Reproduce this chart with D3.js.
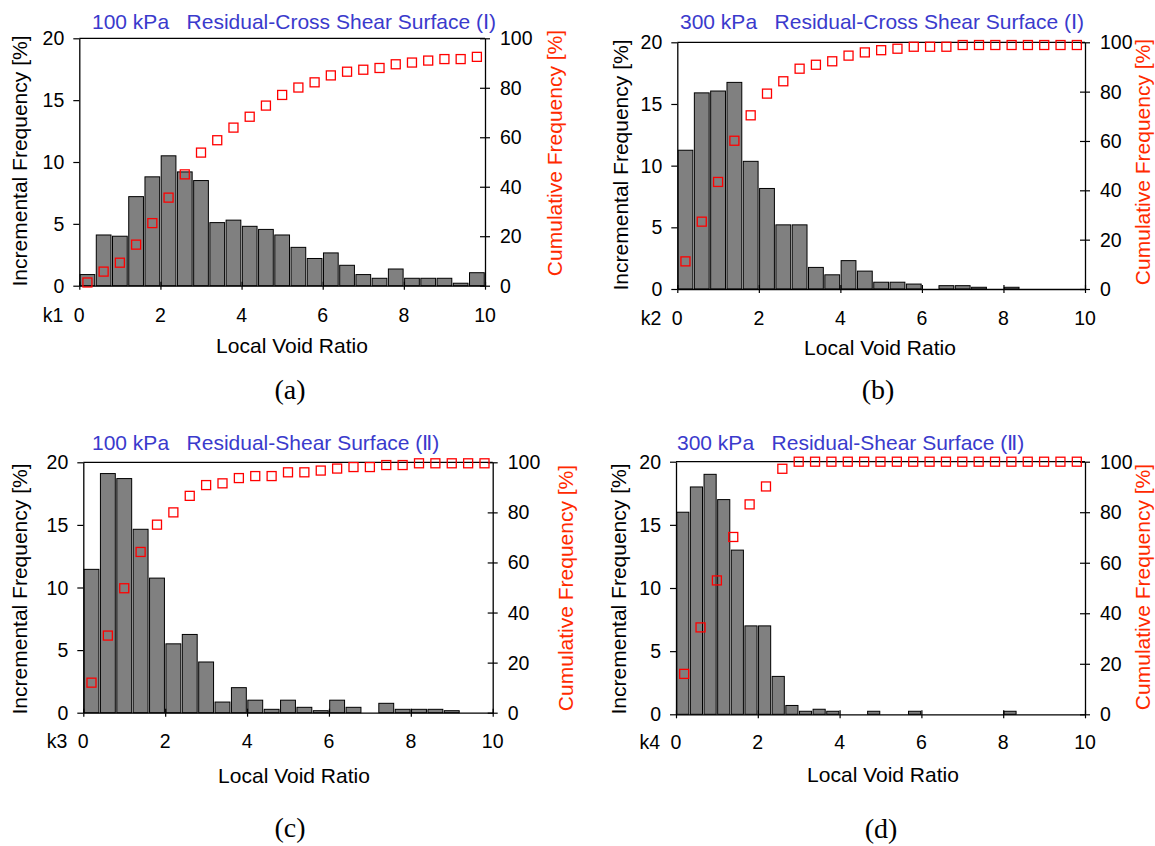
<!DOCTYPE html>
<html>
<head>
<meta charset="utf-8">
<script src="https://cdn.jsdelivr.net/npm/d3@7"></script>
<style>
  body { margin: 0; background: #fff; }
  svg { display: block; }
</style>
</head>
<body>
<svg id="fig" width="1155" height="846"></svg>
<script>
// ---- data: local void ratio histograms ----
// lower edges of the 0.4-wide bins
const bins04 = [0, 0.4, 0.8, 1.2, 1.6, 2.0, 2.4, 2.8, 3.2, 3.6, 4.0, 4.4, 4.8,
                5.2, 5.6, 6.0, 6.4, 6.8, 7.2, 7.6, 8.0, 8.4, 8.8, 9.2, 9.6];
// lower edges of the 1/3-wide bins used for (d)
const binsThird = [0, 0.333, 0.667, 1.0, 1.333, 1.667, 2.0, 2.333, 2.667, 3.0,
                   3.333, 3.667, 4.0, 4.333, 4.667, 5.0, 5.333, 5.667, 6.0, 6.333,
                   6.667, 7.0, 7.333, 7.667, 8.0, 8.333, 8.667, 9.0, 9.333, 9.667];
// x positions of the cumulative points
const cumX = [0.2, 0.6, 1.0, 1.4, 1.8, 2.2, 2.6, 3.0, 3.4, 3.8, 4.2, 4.6, 5.0,
              5.4, 5.8, 6.2, 6.6, 7.0, 7.4, 7.8, 8.2, 8.6, 9.0, 9.4, 9.8];

// incremental frequency [%]
const incA = [0.9, 4.1, 4.0, 7.2, 8.8, 10.5, 9.2, 8.5, 5.1, 5.3, 4.8, 4.55, 4.1,
              3.1, 2.2, 2.65, 1.65, 0.9, 0.6, 1.35, 0.6, 0.6, 0.6, 0.2, 1.05];
const incB = [11.25, 15.9, 16.05, 16.75, 10.35, 8.15, 5.2, 5.2, 1.75, 1.15, 2.3, 1.45, 0.55,
              0.55, 0.4, 0, 0.27, 0.27, 0.14, 0, 0.14, 0, 0, 0, 0];
const incC = [11.45, 19.1, 18.7, 14.65, 10.75, 5.5, 6.25, 4.05, 0.85, 2.0, 1.0, 0.27, 1.0,
              0.43, 0.16, 1.0, 0.43, 0, 0.75, 0.27, 0.27, 0.27, 0.16, 0, 0];
const incD = [16.0, 18.0, 19.0, 17.0, 13.0, 7.0, 7.0, 3.0, 0.7, 0.24, 0.4, 0.24, 0, 0, 0.24,
              0, 0, 0.24, 0, 0, 0, 0, 0, 0, 0.24, 0, 0, 0, 0, 0];

// cumulative frequency [%]
const cumA = [1.3, 5.7, 9.3, 16.6, 25.3, 35.6, 45.0, 53.8, 58.8, 63.9, 68.3, 72.8, 77.1,
              80.1, 82.2, 85.0, 86.5, 87.3, 88.0, 89.5, 90.2, 91.0, 91.6, 91.6, 92.5];
const cumB = [11.2, 27.3, 43.4, 60.1, 70.4, 79.2, 84.2, 89.3, 90.9, 92.3, 94.6, 95.9, 96.8,
              97.4, 98.2, 98.2, 98.2, 98.9, 98.9, 98.9, 98.9, 98.9, 98.9, 98.9, 98.9];
const cumC = [12.0, 30.8, 49.7, 64.2, 75.1, 80.0, 86.6, 90.9, 91.6, 93.7, 94.5, 94.5, 96.0,
              96.0, 96.7, 97.5, 98.1, 98.1, 98.9, 98.9, 99.6, 99.6, 99.6, 99.6, 99.6];
const cumD = [16.0, 34.4, 53.0, 70.2, 83.1, 90.2, 97.2, 100, 100, 100, 100, 100, 100,
              100, 100, 100, 100, 100, 100, 100, 100, 100, 100, 100, 100];

// ---- text ----
const titles = [
  "100 kPa   Residual-Cross Shear Surface (\u2160)",
  "300 kPa   Residual-Cross Shear Surface (\u2160)",
  "100 kPa   Residual-Shear Surface (\u2161)",
  "300 kPa   Residual-Shear Surface (\u2161)"
];
const kLabels = ["k1", "k2", "k3", "k4"];
const captions = ["(a)", "(b)", "(c)", "(d)"];
const xTicks = [0, 2, 4, 6, 8, 10];
const incTicks = [0, 5, 10, 15, 20];
const cumTicks = [0, 20, 40, 60, 80, 100];
const xTitle = "Local Void Ratio";
const incTitle = "Incremental Frequency [%]";
const cumTitle = "Cumulative Frequency [%]";

// ---- panel layout ----
const panels = [
  { bins: bins04, binW: 0.4, inc: incA, cum: cumA,
    L: 79.3, R: 485, T: 38.3, B: 285.7,
    titleX: 92, titleY: 29, tickY: 322, xTitleX: 292, xTitleY: 353,
    capX: 290, capY: 399, incTX: 27, incTY: 161, cumTX: 562, cumTY: 153 },
  { bins: bins04, binW: 0.4, inc: incB, cum: cumB,
    L: 677.3, R: 1085, T: 42.3, B: 289,
    titleX: 680, titleY: 29, tickY: 325, xTitleX: 880, xTitleY: 355,
    capX: 878, capY: 399, incTX: 628, incTY: 165, cumTX: 1150, cumTY: 162 },
  { bins: bins04, binW: 0.4, inc: incC, cum: cumC,
    L: 83.3, R: 492.7, T: 462.3, B: 712.7,
    titleX: 92, titleY: 450, tickY: 748, xTitleX: 294, xTitleY: 783,
    capX: 290, capY: 837, incTX: 27, incTY: 589, cumTX: 573, cumTY: 588 },
  { bins: binsThird, binW: 1 / 3, inc: incD, cum: cumD,
    L: 676, R: 1085, T: 461.7, B: 714.3,
    titleX: 677, titleY: 450, tickY: 749, xTitleX: 883, xTitleY: 782,
    capX: 881, capY: 838, incTX: 626, incTY: 589, cumTX: 1150, cumTY: 587 }
];

const svg = d3.select("#fig");
svg.append("rect").attr("width", 1155).attr("height", 846).attr("fill", "#fff");

const SANS = "'Liberation Sans', Arial, Helvetica, sans-serif";
const SERIF = "'Liberation Serif', 'Times New Roman', serif";

panels.forEach((p, i) => {
  const g = svg.append("g");
  const x = d3.scaleLinear().domain([0, 10]).range([p.L, p.R]);
  const yInc = d3.scaleLinear().domain([0, 20]).range([p.B, p.T]);
  const yCum = d3.scaleLinear().domain([0, 100]).range([p.B, p.T]);

  // histogram bars
  g.append("g").selectAll("rect")
    .data(p.bins.map((lo, k) => ({ lo, v: p.inc[k] })).filter(d => d.v > 0))
    .join("rect")
    .attr("x", d => x(d.lo) + 0.75)
    .attr("width", d => x(d.lo + p.binW) - x(d.lo) - 1.5)
    .attr("y", d => yInc(d.v))
    .attr("height", d => yInc(0) - yInc(d.v))
    .attr("fill", "#808080")
    .attr("stroke", "#000")
    .attr("stroke-width", 1);

  // frame: top border line
  g.append("line")
    .attr("x1", p.L).attr("x2", p.R).attr("y1", p.T).attr("y2", p.T)
    .attr("stroke", "#000").attr("stroke-width", 1.3);

  // bottom axis (ticks crossing the line)
  const xAxis = g.append("g").attr("transform", `translate(0,${p.B})`)
    .call(d3.axisBottom(x).tickValues(xTicks).tickSizeInner(4).tickSizeOuter(0).tickFormat(""));
  xAxis.select(".domain").attr("stroke", "#000").attr("stroke-width", 1.3);
  xAxis.selectAll(".tick line").attr("y1", -4).attr("y2", 4).attr("stroke", "#000").attr("stroke-width", 1.2);
  xAxis.selectAll(".tick text").remove();

  // left axis
  const yAxisL = g.append("g").attr("transform", `translate(${p.L},0)`)
    .call(d3.axisLeft(yInc).tickValues(incTicks).tickSizeInner(6).tickSizeOuter(0).tickFormat(""));
  yAxisL.select(".domain").attr("stroke", "#000").attr("stroke-width", 1.3);
  yAxisL.selectAll(".tick line").attr("stroke", "#000").attr("stroke-width", 1.2);
  yAxisL.selectAll(".tick text").remove();

  // right axis
  const yAxisR = g.append("g").attr("transform", `translate(${p.R},0)`)
    .call(d3.axisRight(yCum).tickValues(cumTicks).tickSizeInner(5).tickSizeOuter(0).tickFormat(""));
  yAxisR.select(".domain").attr("stroke", "#000").attr("stroke-width", 1.3);
  yAxisR.selectAll(".tick line").attr("x1", -5).attr("x2", 5).attr("stroke", "#000").attr("stroke-width", 1.2);
  yAxisR.selectAll(".tick text").remove();

  // tick labels
  const tickFont = { "font-family": SANS, "font-size": "19.5px", "fill": "#000" };
  const applyFont = (sel, f) => { Object.entries(f).forEach(([k, v]) => sel.style(k, v)); return sel; };

  applyFont(g.append("g").selectAll("text").data(xTicks).join("text")
    .attr("x", d => x(d)).attr("y", p.tickY).attr("text-anchor", "middle")
    .text(d => d), tickFont);
  applyFont(g.append("text")
    .attr("x", p.L - 16).attr("y", p.tickY).attr("text-anchor", "end")
    .text(kLabels[i]), tickFont);
  applyFont(g.append("g").selectAll("text").data(incTicks).join("text")
    .attr("x", p.L - 15).attr("y", d => yInc(d) + 7).attr("text-anchor", "end")
    .text(d => d), tickFont);
  applyFont(g.append("g").selectAll("text").data(cumTicks).join("text")
    .attr("x", p.R + 15).attr("y", d => yCum(d) + 7).attr("text-anchor", "start")
    .text(d => d), tickFont);

  // cumulative markers
  g.append("g").selectAll("rect")
    .data(cumX.map((cx, k) => ({ cx, c: p.cum[k] })))
    .join("rect")
    .attr("x", d => x(d.cx) - 4.5)
    .attr("y", d => yCum(d.c) - 4.5)
    .attr("width", 9).attr("height", 9)
    .attr("fill", "none")
    .attr("stroke", "#ff0000")
    .attr("stroke-width", 1.3);

  // panel title
  g.append("text")
    .attr("x", p.titleX).attr("y", p.titleY)
    .style("white-space", "pre")
    .style("font-family", SANS).style("font-size", "21px").style("fill", "#3a3acc")
    .text(titles[i]);

  // axis titles
  g.append("text")
    .attr("x", p.xTitleX).attr("y", p.xTitleY).attr("text-anchor", "middle")
    .style("font-family", SANS).style("font-size", "21px").style("fill", "#000")
    .text(xTitle);
  g.append("text")
    .attr("transform", `translate(${p.incTX},${p.incTY}) rotate(-90)`)
    .attr("text-anchor", "middle")
    .style("font-family", SANS).style("font-size", "21px").style("fill", "#000")
    .text(incTitle);
  g.append("text")
    .attr("transform", `translate(${p.cumTX},${p.cumTY}) rotate(-90)`)
    .attr("text-anchor", "middle")
    .style("font-family", SANS).style("font-size", "21px").style("fill", "#ff2a00")
    .text(cumTitle);

  // caption
  g.append("text")
    .attr("x", p.capX).attr("y", p.capY).attr("text-anchor", "middle")
    .style("font-family", SERIF).style("font-size", "28px").style("fill", "#000")
    .text(captions[i]);
});
</script>
</body>
</html>
